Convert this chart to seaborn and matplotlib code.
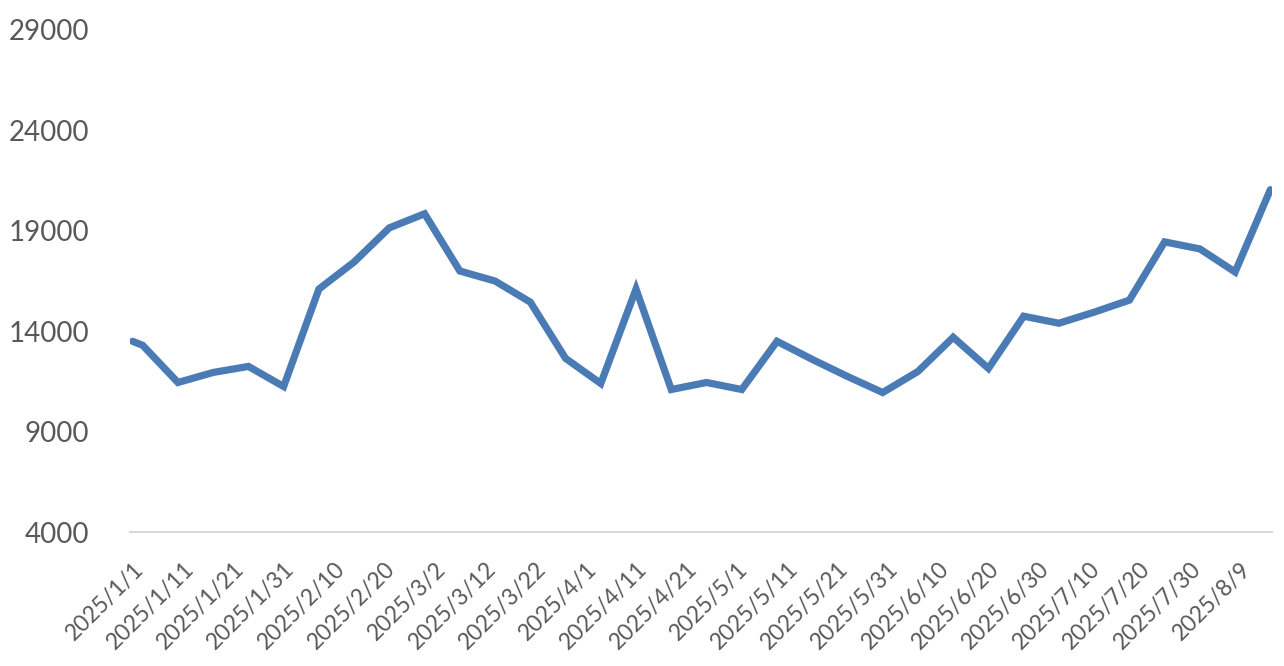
import pandas as pd
import matplotlib
matplotlib.use("Agg")
import matplotlib.pyplot as plt
import seaborn as sns

# weekly series (first point 1/1, then Fridays)
dates = ["2025-01-01", "2025-01-03", "2025-01-10", "2025-01-17", "2025-01-24",
         "2025-01-31", "2025-02-07", "2025-02-14", "2025-02-21", "2025-02-28",
         "2025-03-07", "2025-03-14", "2025-03-21", "2025-03-28", "2025-04-04",
         "2025-04-11", "2025-04-18", "2025-04-25", "2025-05-02", "2025-05-09",
         "2025-05-16", "2025-05-23", "2025-05-30", "2025-06-06", "2025-06-13",
         "2025-06-20", "2025-06-27", "2025-07-04", "2025-07-11", "2025-07-18",
         "2025-07-25", "2025-08-01", "2025-08-08", "2025-08-15"]
values = [13500, 13300, 11450, 11950, 12250,
          11250, 16100, 17450, 19150, 19850,
          17000, 16500, 15450, 12650, 11400,
          16100, 11100, 11450, 11100, 13500,
          12600, 11750, 10950, 12000, 13700,
          12150, 14750, 14400, 14950, 15550,
          18450, 18100, 16950, 21050]

tick_labels = ["2025/1/1", "2025/1/11", "2025/1/21", "2025/1/31", "2025/2/10",
               "2025/2/20", "2025/3/2", "2025/3/12", "2025/3/22", "2025/4/1",
               "2025/4/11", "2025/4/21", "2025/5/1", "2025/5/11", "2025/5/21",
               "2025/5/31", "2025/6/10", "2025/6/20", "2025/6/30", "2025/7/10",
               "2025/7/20", "2025/7/30", "2025/8/9"]
y_ticks = [4000, 9000, 14000, 19000, 24000, 29000]

df = pd.DataFrame({"date": pd.to_datetime(dates), "value": values})

sns.set_style("white")
plt.rcParams["font.family"] = ["Lato", "DejaVu Sans"]

fig = plt.figure(figsize=(12.84, 6.66), dpi=100)
ax = fig.add_axes([0.101, 0.201, 0.89, 0.754])

sns.lineplot(data=df, x="date", y="value", ax=ax,
             color="#4B7BB5", linewidth=5.2, solid_joinstyle="miter")

ax.set_ylim(4000, 29000)
ax.set_yticks(y_ticks)
ax.set_yticklabels([str(v) for v in y_ticks])
ax.set_xlim(pd.Timestamp("2025-01-01") - pd.Timedelta(hours=14),
            pd.Timestamp("2025-08-15") + pd.Timedelta(hours=10))
ax.set_xticks(pd.to_datetime(tick_labels, format="%Y/%m/%d"))
ax.set_xticklabels(tick_labels, rotation=45, ha="right", va="top",
                   rotation_mode="anchor")

ax.tick_params(axis="y", length=0, pad=29, labelsize=20, labelcolor="#595959")
ax.tick_params(axis="x", length=0, pad=19, labelsize=16.5, labelcolor="#595959")
ax.set_xlabel("")
ax.set_ylabel("")

for s in ["top", "right", "left"]:
    ax.spines[s].set_visible(False)
ax.spines["bottom"].set_color("#D9D9D9")
ax.spines["bottom"].set_linewidth(1.5)

fig.savefig("out.png", dpi=100)
